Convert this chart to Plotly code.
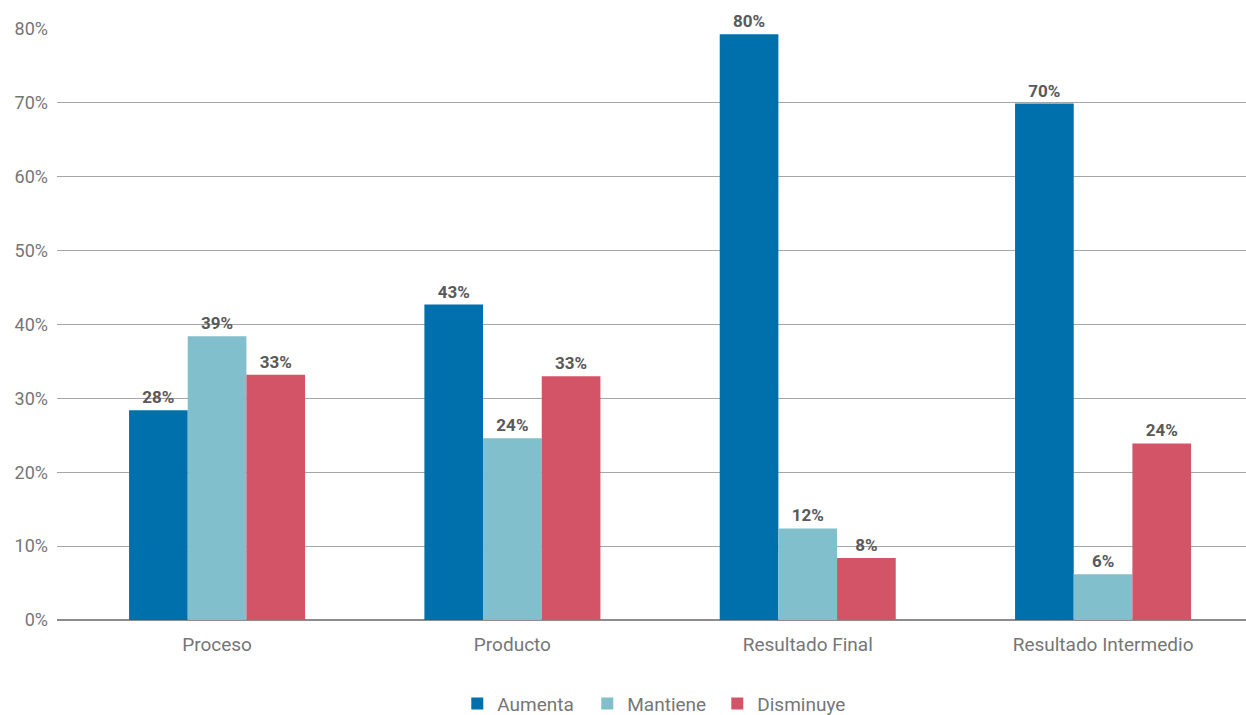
import plotly.graph_objects as go

categories = ["Proceso", "Producto", "Resultado Final", "Resultado Intermedio"]
aumenta = [0.284, 0.427, 0.793, 0.699]
mantiene = [0.384, 0.246, 0.124, 0.062]
disminuye = [0.332, 0.330, 0.084, 0.239]
aumenta_lbl = ["28%", "43%", "80%", "70%"]
mantiene_lbl = ["39%", "24%", "12%", "6%"]
disminuye_lbl = ["33%", "33%", "8%", "24%"]
tick_vals = [0, 0.1, 0.2, 0.3, 0.4, 0.5, 0.6, 0.7, 0.8]
tick_text = ["0%", "10%", "20%", "30%", "40%", "50%", "60%", "70%", "80%"]

series = [
    ("Aumenta", aumenta, aumenta_lbl, "#0070AD"),
    ("Mantiene", mantiene, mantiene_lbl, "#80BFCB"),
    ("Disminuye", disminuye, disminuye_lbl, "#D35467"),
]

FONT = "Roboto, 'Noto Sans', sans-serif"
GREY = "#767676"

fig = go.Figure()
for name, vals, lbls, col in series:
    fig.add_trace(go.Bar(
        name=name, x=categories, y=vals, text=lbls,
        textposition="outside", cliponaxis=False,
        textfont=dict(family=FONT, size=17, color="#595959", weight="bold"),
        marker=dict(color=col, line=dict(width=0)),
    ))

fig.update_layout(
    width=1246, height=715,
    margin=dict(l=57, r=0, t=29, b=95, autoexpand=False),
    paper_bgcolor="white", plot_bgcolor="white",
    barmode="group", bargap=0.404, bargroupgap=0,
    font=dict(family=FONT, size=18, color=GREY),
    showlegend=True,
    legend=dict(orientation="h", x=0.367, xref="container", xanchor="left",
                y=0.016, yref="container", yanchor="middle",
                font=dict(family=FONT, size=19, color=GREY),
                itemwidth=30, entrywidth=85, entrywidthmode="pixels",
                traceorder="normal"),
)
fig.update_xaxes(
    range=[-0.542, 3.484], showgrid=False, showline=False, zeroline=False,
    ticks="", ticklabelstandoff=11,
    tickfont=dict(family=FONT, size=19, color=GREY),
)
fig.update_yaxes(
    range=[0, 0.8], tickvals=tick_vals, ticktext=tick_text,
    showgrid=True, gridcolor="#a6a6a6", gridwidth=1,
    zeroline=True, zerolinecolor="#8c8c8c", zerolinewidth=2,
    showline=False, ticks="", ticklabelstandoff=8,
    tickfont=dict(family=FONT, size=18, color=GREY),
)

fig.write_html("out.html")
